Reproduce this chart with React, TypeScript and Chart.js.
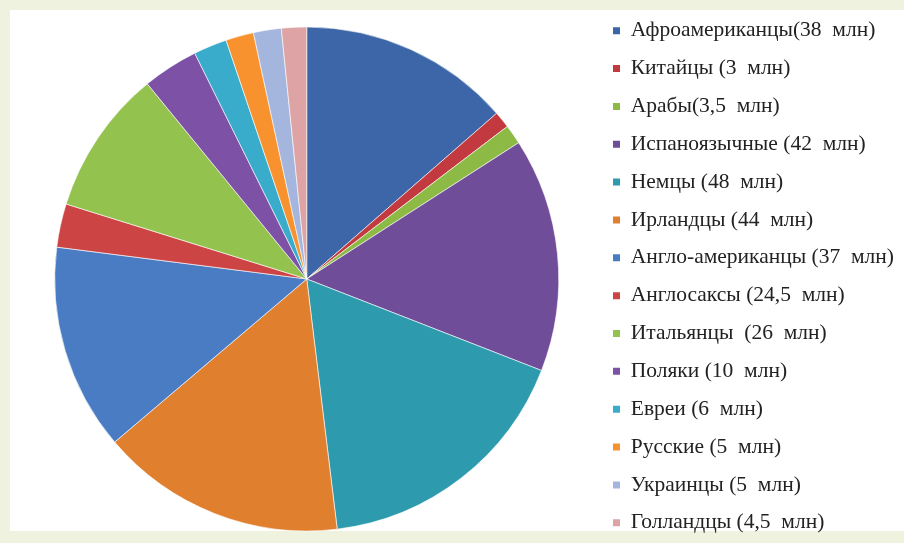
import React, { useEffect, useRef } from "react";
import { Chart, registerables } from "chart.js";

Chart.register(...registerables);

const labels = [
  "Афроамериканцы(38  млн)",
  "Китайцы (3  млн)",
  "Арабы(3,5  млн)",
  "Испаноязычные (42  млн)",
  "Немцы (48  млн)",
  "Ирландцы (44  млн)",
  "Англо-американцы (37  млн)",
  "Англосаксы (24,5  млн)",
  "Итальянцы  (26  млн)",
  "Поляки (10  млн)",
  "Евреи (6  млн)",
  "Русские (5  млн)",
  "Украинцы (5  млн)",
  "Голландцы (4,5  млн)",
];

// slice sizes
const values = [38, 3, 3.5, 42, 48, 44, 37, 7.8, 26, 10, 6, 5, 5, 4.5];

const colors = [
  "#3C66A8",
  "#C23A3F",
  "#8DBA45",
  "#6F4D98",
  "#2E9AAE",
  "#E07F2E",
  "#4A7CC4",
  "#CC4444",
  "#94C24E",
  "#7D52A6",
  "#39ACCB",
  "#F7922F",
  "#A4B6DE",
  "#DEA3A5",
];

export default function App() {
  const ref = useRef<HTMLCanvasElement>(null);

  useEffect(() => {
    const canvas = ref.current;
    if (!canvas) return;
    const chart = new Chart(canvas, {
      type: "pie",
      data: {
        labels,
        datasets: [
          {
            data: values,
            backgroundColor: colors,
            borderColor: "rgba(255,255,255,0.6)",
            borderWidth: 1,
            radius: 252,
          } as any,
        ],
      },
      options: {
        responsive: false,
        animation: false,
        layout: { padding: { left: 16.8, top: 3.6, bottom: 45.6, right: 0 } },
        plugins: {
          tooltip: { enabled: false },
          legend: {
            position: "right",
            align: "start",
            labels: {
              boxWidth: 7,
              boxHeight: 7,
              padding: 16.35,
              color: "#222222",
              font: {
                family: "'Liberation Serif', 'Times New Roman', serif",
                size: 21.5,
              },
              generateLabels: () =>
                labels.map((t, i) => ({
                  text: t,
                  fillStyle: colors[i],
                  strokeStyle: colors[i],
                  lineWidth: 0,
                  hidden: false,
                  index: i,
                  fontColor: "#222222",
                })),
            },
          },
        },
      },
    });
    return () => chart.destroy();
  }, []);

  return (
    <div
      style={{
        position: "fixed",
        left: 0,
        top: 0,
        width: 904,
        height: 543,
        background: "#EFF2DE",
        overflow: "hidden",
      }}
    >
      <div
        style={{
          position: "absolute",
          left: 10,
          top: 10,
          right: 0,
          bottom: 12,
          background: "#FFFFFF",
        }}
      />
      <canvas
        ref={ref}
        width={904}
        height={600}
        style={{ position: "absolute", left: 0, top: 0, width: 904, height: 600 }}
      />
    </div>
  );
}
